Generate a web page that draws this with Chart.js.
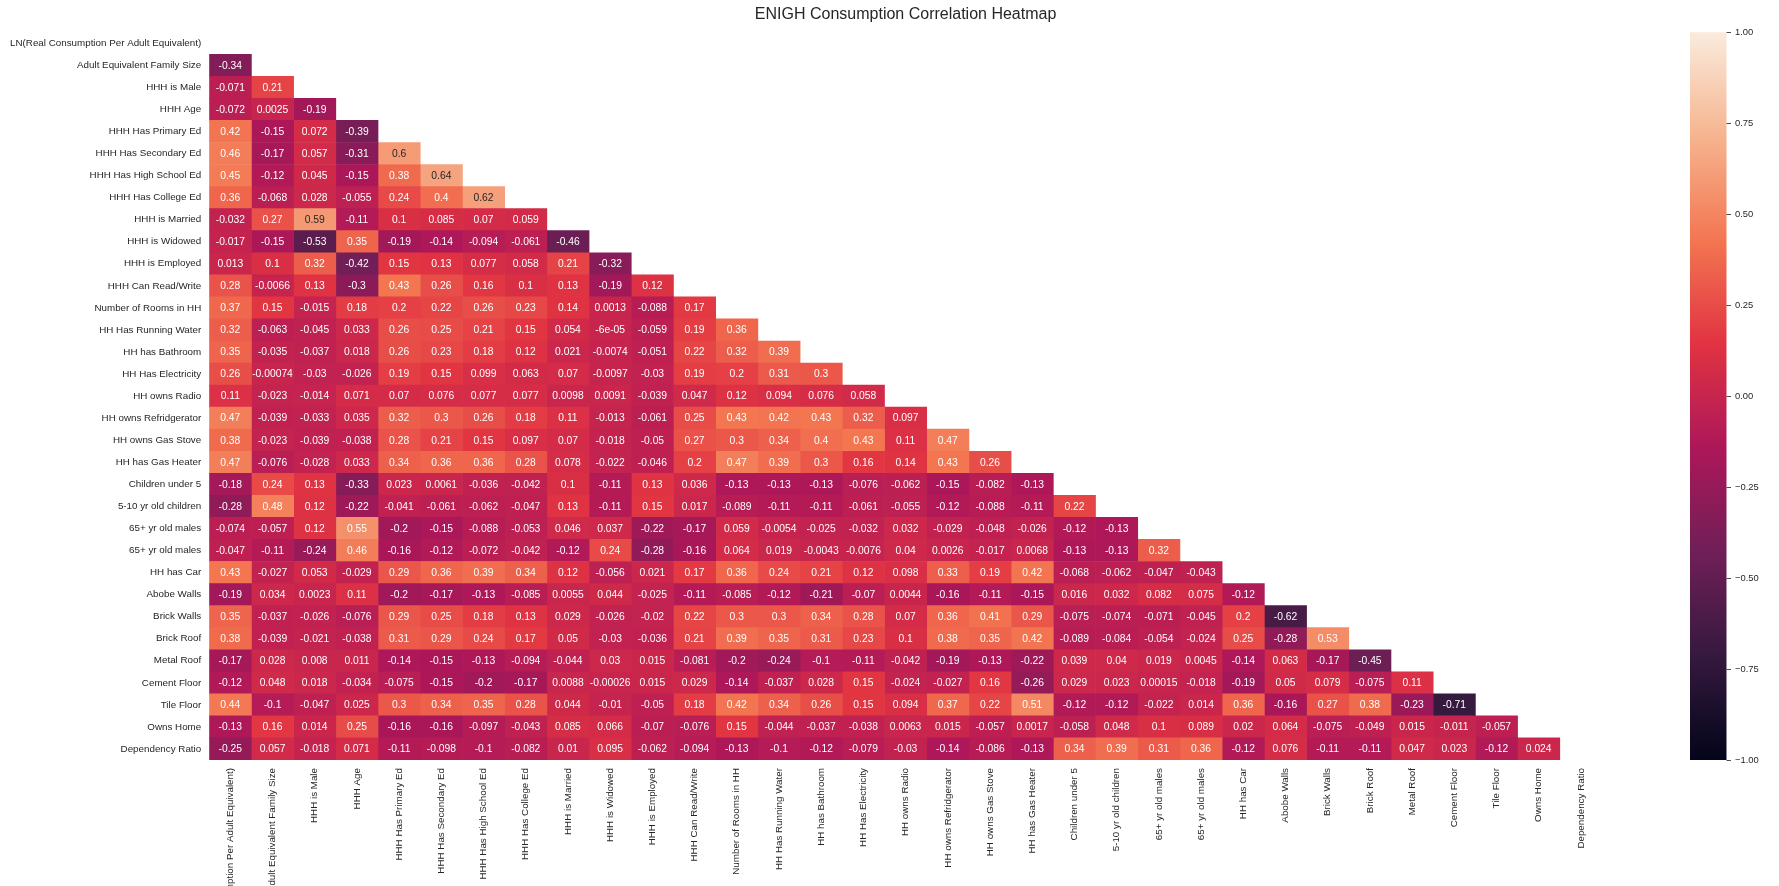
<!DOCTYPE html>
<html>
<head>
<meta charset="utf-8">
<style>
  html, body { margin: 0; padding: 0; background: #ffffff; overflow: hidden; }
  #wrap { width: 1779px; height: 886px; position: relative; }
</style>
<script src="https://cdn.jsdelivr.net/npm/chart.js@4.4.1/dist/chart.umd.min.js"></script>
</head>
<body>
<div id="wrap"><canvas id="heatmap" width="1779" height="886"></canvas></div>
<script>
// Variables of the correlation matrix (rows top to bottom, columns left to right)
const variables = [
  "LN(Real Consumption Per Adult Equivalent)",
  "Adult Equivalent Family Size",
  "HHH is Male",
  "HHH Age",
  "HHH Has Primary Ed",
  "HHH Has Secondary Ed",
  "HHH Has High School Ed",
  "HHH Has College Ed",
  "HHH is Married",
  "HHH is Widowed",
  "HHH is Employed",
  "HHH Can Read/Write",
  "Number of Rooms in HH",
  "HH Has Running Water",
  "HH has Bathroom",
  "HH Has Electricity",
  "HH owns Radio",
  "HH owns Refridgerator",
  "HH owns Gas Stove",
  "HH has Gas Heater",
  "Children under 5",
  "5-10 yr old children",
  "65+ yr old males",
  "65+ yr old males",
  "HH has Car",
  "Abobe Walls",
  "Brick Walls",
  "Brick Roof",
  "Metal Roof",
  "Cement Floor",
  "Tile Floor",
  "Owns Home",
  "Dependency Ratio"
];

// Lower-triangle correlations, one array per row (columns 0 .. row-1)
const rowConsumption   = [];
const rowFamilySize    = [-0.34];
const rowMale          = [-0.071, 0.21];
const rowAge           = [-0.072, 0.0025, -0.19];
const rowPrimaryEd     = [0.42, -0.15, 0.072, -0.39];
const rowSecondaryEd   = [0.46, -0.17, 0.057, -0.31, 0.6];
const rowHighSchoolEd  = [0.45, -0.12, 0.045, -0.15, 0.38, 0.64];
const rowCollegeEd     = [0.36, -0.068, 0.028, -0.055, 0.24, 0.4, 0.62];
const rowMarried       = [-0.032, 0.27, 0.59, -0.11, 0.1, 0.085, 0.07, 0.059];
const rowWidowed       = [-0.017, -0.15, -0.53, 0.35, -0.19, -0.14, -0.094, -0.061, -0.46];
const rowEmployed      = [0.013, 0.1, 0.32, -0.42, 0.15, 0.13, 0.077, 0.058, 0.21, -0.32];
const rowReadWrite     = [0.28, -0.0066, 0.13, -0.3, 0.43, 0.26, 0.16, 0.1, 0.13, -0.19, 0.12];
const rowRooms         = [0.37, 0.15, -0.015, 0.18, 0.2, 0.22, 0.26, 0.23, 0.14, 0.0013, -0.088, 0.17];
const rowRunningWater  = [0.32, -0.063, -0.045, 0.033, 0.26, 0.25, 0.21, 0.15, 0.054, -6e-05, -0.059, 0.19, 0.36];
const rowBathroom      = [0.35, -0.035, -0.037, 0.018, 0.26, 0.23, 0.18, 0.12, 0.021, -0.0074, -0.051, 0.22, 0.32, 0.39];
const rowElectricity   = [0.26, -0.00074, -0.03, -0.026, 0.19, 0.15, 0.099, 0.063, 0.07, -0.0097, -0.03, 0.19, 0.2, 0.31, 0.3];
const rowRadio         = [0.11, -0.023, -0.014, 0.071, 0.07, 0.076, 0.077, 0.077, 0.0098, 0.0091, -0.039, 0.047, 0.12, 0.094, 0.076, 0.058];
const rowFridge        = [0.47, -0.039, -0.033, 0.035, 0.32, 0.3, 0.26, 0.18, 0.11, -0.013, -0.061, 0.25, 0.43, 0.42, 0.43, 0.32, 0.097];
const rowGasStove      = [0.38, -0.023, -0.039, -0.038, 0.28, 0.21, 0.15, 0.097, 0.07, -0.018, -0.05, 0.27, 0.3, 0.34, 0.4, 0.43, 0.11, 0.47];
const rowGasHeater     = [0.47, -0.076, -0.028, 0.033, 0.34, 0.36, 0.36, 0.28, 0.078, -0.022, -0.046, 0.2, 0.47, 0.39, 0.3, 0.16, 0.14, 0.43, 0.26];
const rowUnder5        = [-0.18, 0.24, 0.13, -0.33, 0.023, 0.0061, -0.036, -0.042, 0.1, -0.11, 0.13, 0.036, -0.13, -0.13, -0.13, -0.076, -0.062, -0.15, -0.082, -0.13];
const row5to10         = [-0.28, 0.48, 0.12, -0.22, -0.041, -0.061, -0.062, -0.047, 0.13, -0.11, 0.15, 0.017, -0.089, -0.11, -0.11, -0.061, -0.055, -0.12, -0.088, -0.11, 0.22];
const rowMales65a      = [-0.074, -0.057, 0.12, 0.55, -0.2, -0.15, -0.088, -0.053, 0.046, 0.037, -0.22, -0.17, 0.059, -0.0054, -0.025, -0.032, 0.032, -0.029, -0.048, -0.026, -0.12, -0.13];
const rowMales65b      = [-0.047, -0.11, -0.24, 0.46, -0.16, -0.12, -0.072, -0.042, -0.12, 0.24, -0.28, -0.16, 0.064, 0.019, -0.0043, -0.0076, 0.04, 0.0026, -0.017, 0.0068, -0.13, -0.13, 0.32];
const rowCar           = [0.43, -0.027, 0.053, -0.029, 0.29, 0.36, 0.39, 0.34, 0.12, -0.056, 0.021, 0.17, 0.36, 0.24, 0.21, 0.12, 0.098, 0.33, 0.19, 0.42, -0.068, -0.062, -0.047, -0.043];
const rowAdobeWalls    = [-0.19, 0.034, 0.0023, 0.11, -0.2, -0.17, -0.13, -0.085, 0.0055, 0.044, -0.025, -0.11, -0.085, -0.12, -0.21, -0.07, 0.0044, -0.16, -0.11, -0.15, 0.016, 0.032, 0.082, 0.075, -0.12];
const rowBrickWalls    = [0.35, -0.037, -0.026, -0.076, 0.29, 0.25, 0.18, 0.13, 0.029, -0.026, -0.02, 0.22, 0.3, 0.3, 0.34, 0.28, 0.07, 0.36, 0.41, 0.29, -0.075, -0.074, -0.071, -0.045, 0.2, -0.62];
const rowBrickRoof     = [0.38, -0.039, -0.021, -0.038, 0.31, 0.29, 0.24, 0.17, 0.05, -0.03, -0.036, 0.21, 0.39, 0.35, 0.31, 0.23, 0.1, 0.38, 0.35, 0.42, -0.089, -0.084, -0.054, -0.024, 0.25, -0.28, 0.53];
const rowMetalRoof     = [-0.17, 0.028, 0.008, 0.011, -0.14, -0.15, -0.13, -0.094, -0.044, 0.03, 0.015, -0.081, -0.2, -0.24, -0.1, -0.11, -0.042, -0.19, -0.13, -0.22, 0.039, 0.04, 0.019, 0.0045, -0.14, 0.063, -0.17, -0.45];
const rowCementFloor   = [-0.12, 0.048, 0.018, -0.034, -0.075, -0.15, -0.2, -0.17, 0.0088, -0.00026, 0.015, 0.029, -0.14, -0.037, 0.028, 0.15, -0.024, -0.027, 0.16, -0.26, 0.029, 0.023, 0.00015, -0.018, -0.19, 0.05, 0.079, -0.075, 0.11];
const rowTileFloor     = [0.44, -0.1, -0.047, 0.025, 0.3, 0.34, 0.35, 0.28, 0.044, -0.01, -0.05, 0.18, 0.42, 0.34, 0.26, 0.15, 0.094, 0.37, 0.22, 0.51, -0.12, -0.12, -0.022, 0.014, 0.36, -0.16, 0.27, 0.38, -0.23, -0.71];
const rowOwnsHome      = [-0.13, 0.16, 0.014, 0.25, -0.16, -0.16, -0.097, -0.043, 0.085, 0.066, -0.07, -0.076, 0.15, -0.044, -0.037, -0.038, 0.0063, 0.015, -0.057, 0.0017, -0.058, 0.048, 0.1, 0.089, 0.02, 0.064, -0.075, -0.049, 0.015, -0.011, -0.057];
const rowDependency    = [-0.25, 0.057, -0.018, 0.071, -0.11, -0.098, -0.1, -0.082, 0.01, 0.095, -0.062, -0.094, -0.13, -0.1, -0.12, -0.079, -0.03, -0.14, -0.086, -0.13, 0.34, 0.39, 0.31, 0.36, -0.12, 0.076, -0.11, -0.11, 0.047, 0.023, -0.12, 0.024];

const lowerTriangle = [
  rowConsumption, rowFamilySize, rowMale, rowAge, rowPrimaryEd, rowSecondaryEd,
  rowHighSchoolEd, rowCollegeEd, rowMarried, rowWidowed, rowEmployed, rowReadWrite,
  rowRooms, rowRunningWater, rowBathroom, rowElectricity, rowRadio, rowFridge,
  rowGasStove, rowGasHeater, rowUnder5, row5to10, rowMales65a, rowMales65b,
  rowCar, rowAdobeWalls, rowBrickWalls, rowBrickRoof, rowMetalRoof, rowCementFloor,
  rowTileFloor, rowOwnsHome, rowDependency
];

// Colour bar tick values
const colorbarTicks = [1, 0.75, 0.5, 0.25, 0, -0.25, -0.5, -0.75, -1];

// "rocket" colour ramp, position 0..1 -> rgb
const rocketStops = [
  [0, [3, 5, 26]],
  [1 / 7, [53, 25, 62]],
  [2 / 7, [112, 31, 87]],
  [3 / 7, [173, 23, 89]],
  [4 / 7, [225, 51, 66]],
  [5 / 7, [243, 118, 81]],
  [6 / 7, [246, 180, 143]],
  [1, [250, 235, 221]]
];

const FONT = '"Liberation Sans", Arial, Helvetica, sans-serif';
const DARK_TEXT = '#262626';

function rocketRGB(v) {
  const t = Math.min(1, Math.max(0, (v + 1) / 2));
  for (let k = 1; k < rocketStops.length; k++) {
    const [p1, c1] = rocketStops[k];
    const [p0, c0] = rocketStops[k - 1];
    if (t <= p1) {
      const f = (t - p0) / (p1 - p0);
      return c0.map((c, n) => c + (c1[n] - c) * f);
    }
  }
  return rocketStops[rocketStops.length - 1][1];
}
const rgbStr = c => `rgb(${Math.round(c[0])},${Math.round(c[1])},${Math.round(c[2])})`;

function luminance(c) {
  const lin = c.map(x => {
    const s = x / 255;
    return s <= 0.03928 ? s / 12.92 : Math.pow((s + 0.055) / 1.055, 2.4);
  });
  return 0.2126 * lin[0] + 0.7152 * lin[1] + 0.0722 * lin[2];
}

// Two significant digits, general format (e.g. 0.6, -0.0074, -6e-05)
function formatG2(v) {
  if (v === 0) return '0';
  const exp = Math.floor(Math.log10(Math.abs(v)));
  if (exp < -4) {
    let [m, e] = v.toExponential(1).split('e');
    m = m.replace(/\.?0+$/, '');
    const sign = e[0] === '-' ? '-' : '+';
    let digits = e.replace(/^[+-]/, '');
    if (digits.length < 2) digits = '0' + digits;
    return m + 'e' + sign + digits;
  }
  return String(parseFloat(v.toPrecision(2)));
}

const cellValue = (i, j) => (j < lowerTriangle[i].length ? lowerTriangle[i][j] : undefined);

// One floating-bar dataset per column; each bar spans [col, col + 1] on its row
const datasets = variables.slice(0, -1).map((name, j) => ({
  label: name,
  data: variables.map((_, i) => (cellValue(i, j) !== undefined ? [j, j + 1] : null)),
  backgroundColor: ctx => {
    const v = cellValue(ctx.dataIndex, j);
    return v === undefined ? 'rgba(0,0,0,0)' : rgbStr(rocketRGB(v));
  },
  borderWidth: 0,
  barPercentage: 1,
  categoryPercentage: 1,
  grouped: false
}));

const cellLabels = {
  id: 'cellLabels',
  afterDatasetsDraw(chart) {
    const ctx = chart.ctx;
    ctx.save();
    ctx.font = `10.3px ${FONT}`;
    ctx.textAlign = 'center';
    ctx.textBaseline = 'middle';
    chart.data.datasets.forEach((ds, j) => {
      const meta = chart.getDatasetMeta(j);
      meta.data.forEach((bar, i) => {
        const v = cellValue(i, j);
        if (v === undefined) return;
        const { x, y } = bar.getCenterPoint();
        ctx.fillStyle = luminance(rocketRGB(v)) > 0.408 ? DARK_TEXT : '#ffffff';
        ctx.fillText(formatG2(v), x, y + 0.5);
      });
    });
    ctx.restore();
  }
};

// Colour bar to the right of the matrix, positioned on the 'cb' value scale
const colorbar = {
  id: 'colorbar',
  afterDraw(chart) {
    const s = chart.scales.cb;
    const ctx = chart.ctx;
    const top = s.getPixelForValue(1);
    const bottom = s.getPixelForValue(-1);
    const left = chart.chartArea.right + 88;
    const width = 36.5;
    ctx.save();
    const g = ctx.createLinearGradient(0, bottom, 0, top);
    rocketStops.forEach(([p, c]) => g.addColorStop(p, rgbStr(c)));
    ctx.fillStyle = g;
    ctx.fillRect(left, top, width, bottom - top);
    ctx.strokeStyle = '#4d4d4d';
    ctx.lineWidth = 1;
    ctx.fillStyle = DARK_TEXT;
    ctx.font = `9.4px ${FONT}`;
    ctx.textAlign = 'left';
    ctx.textBaseline = 'middle';
    colorbarTicks.forEach(v => {
      const y = Math.round(s.getPixelForValue(v)) + 0.5;
      ctx.beginPath();
      ctx.moveTo(left + width, y);
      ctx.lineTo(left + width + 4.5, y);
      ctx.stroke();
      ctx.fillText(v.toFixed(2).replace('-', '\u2212'), left + width + 8.5, y);
    });
    ctx.restore();
  }
};

new Chart(document.getElementById('heatmap'), {
  type: 'bar',
  data: { labels: variables, datasets },
  plugins: [cellLabels, colorbar],
  options: {
    indexAxis: 'y',
    responsive: false,
    animation: false,
    devicePixelRatio: 1,
    layout: { padding: { left: 0, right: 177, top: 0, bottom: 0 } },
    plugins: {
      legend: { display: false },
      tooltip: { enabled: false },
      title: {
        display: true,
        text: 'ENIGH Consumption Correlation Heatmap',
        fullSize: false,
        color: DARK_TEXT,
        font: { family: FONT, size: 16, weight: 'normal' },
        padding: { top: 5, bottom: 8 }
      }
    },
    scales: {
      x: {
        type: 'linear',
        position: 'bottom',
        min: 0,
        max: variables.length,
        grid: { display: false, drawTicks: false },
        border: { display: false },
        afterBuildTicks: scale => { scale.ticks = variables.map((_, j) => ({ value: j + 0.5 })); },
        afterFit: scale => { scale.height = 126; },
        ticks: {
          autoSkip: false,
          minRotation: 90,
          maxRotation: 90,
          padding: 8,
          color: DARK_TEXT,
          font: { family: FONT, size: 9.8 },
          callback: (value, index) => variables[index]
        }
      },
      y: {
        type: 'category',
        position: 'left',
        offset: true,
        grid: { display: false, drawTicks: false },
        border: { display: false },
        afterFit: scale => { scale.width = 209.2; },
        ticks: {
          autoSkip: false,
          padding: 8,
          color: DARK_TEXT,
          font: { family: FONT, size: 9.8 }
        }
      },
      cb: {
        type: 'linear',
        position: 'right',
        min: -1,
        max: 1,
        offset: false,
        display: true,
        grid: { display: false, drawTicks: false, tickLength: 0, offset: false },
        border: { display: false },
        ticks: { display: false },
        afterFit: scale => { scale.width = 0; }
      }
    }
  }
});
</script>
</body>
</html>
